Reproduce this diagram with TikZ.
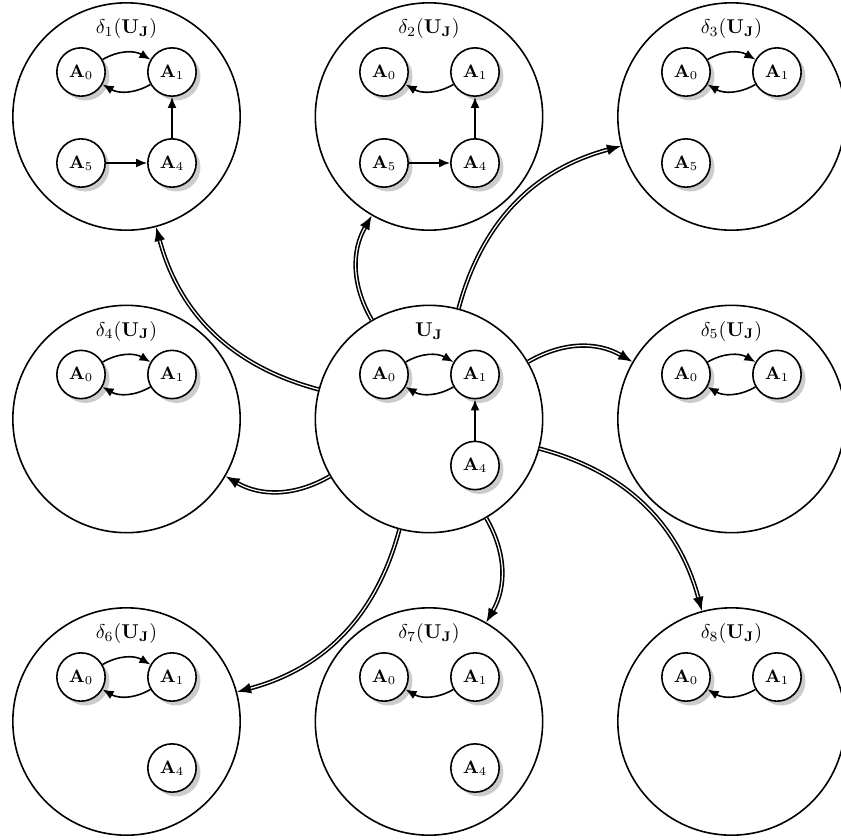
\documentclass[tikz,border=0pt]{standalone}
\usetikzlibrary{shadows,arrows.meta}
\begin{document}
\begin{tikzpicture}[x=0.0176cm,y=-0.0176cm,
  big/.style={circle,draw,thick,minimum size=4cm,inner sep=0pt},
  st/.style={circle,draw,thick,fill=white,drop shadow={fill=black!40,opacity=0.5},minimum size=0.85cm,inner sep=0pt,font=\small},
  lbl/.style={inner sep=0pt},
  ar/.style={-{Latex[length=5.5pt,width=4.5pt]},thick},
  dar/.style={-{Latex[length=7pt,width=5.5pt]},thick,double}]
\useasboundingbox (0,0) rectangle (840,840);
% big circles
\node[big] (c1) at (126.5,116.5) {};
\node[big] (c2) at (429,116.5) {};
\node[big] (c3) at (731.5,116.5) {};
\node[big] (c4) at (126.5,419) {};
\node[big] (u)  at (429,419) {};
\node[big] (c5) at (731.5,419) {};
\node[big] (c6) at (126.5,721.5) {};
\node[big] (c7) at (429,721.5) {};
\node[big] (c8) at (731.5,721.5) {};
% labels
\node[lbl] (l1) at (126.5,28.5) {$\delta_1(\mathbf{U_J})$};
\node[lbl] (l2) at (429,28.5) {$\delta_2(\mathbf{U_J})$};
\node[lbl] (l3) at (731.5,28.5) {$\delta_3(\mathbf{U_J})$};
\node[lbl] (l4) at (126.5,331) {$\delta_4(\mathbf{U_J})$};
\node[lbl] (lu) at (429,331) {$\mathbf{U_J}$};
\node[lbl] (l5) at (731.5,331) {$\delta_5(\mathbf{U_J})$};
\node[lbl] (l6) at (126.5,633.5) {$\delta_6(\mathbf{U_J})$};
\node[lbl] (l7) at (429,633.5) {$\delta_7(\mathbf{U_J})$};
\node[lbl] (l8) at (731.5,633.5) {$\delta_8(\mathbf{U_J})$};
% c1
\node[st] (c1a0) at (81,72) {$\mathbf{A}_0$};
\node[st] (c1a1) at (172,72) {$\mathbf{A}_1$};
\node[st] (c1a5) at (81,163) {$\mathbf{A}_5$};
\node[st] (c1a4) at (172,163) {$\mathbf{A}_4$};
\draw[ar] (c1a0) to[bend left] (c1a1);
\draw[ar] (c1a1) to[bend left] (c1a0);
\draw[ar] (c1a4) -- (c1a1);
\draw[ar] (c1a5) -- (c1a4);
% c2
\node[st] (c2a0) at (384,72) {$\mathbf{A}_0$};
\node[st] (c2a1) at (475,72) {$\mathbf{A}_1$};
\node[st] (c2a5) at (384,163) {$\mathbf{A}_5$};
\node[st] (c2a4) at (475,163) {$\mathbf{A}_4$};
\draw[ar] (c2a1) to[bend left] (c2a0);
\draw[ar] (c2a4) -- (c2a1);
\draw[ar] (c2a5) -- (c2a4);
% c3
\node[st] (c3a0) at (686,72) {$\mathbf{A}_0$};
\node[st] (c3a1) at (777,72) {$\mathbf{A}_1$};
\node[st] (c3a5) at (686,163) {$\mathbf{A}_5$};
\draw[ar] (c3a0) to[bend left] (c3a1);
\draw[ar] (c3a1) to[bend left] (c3a0);
% c4
\node[st] (c4a0) at (81,374.5) {$\mathbf{A}_0$};
\node[st] (c4a1) at (172,374.5) {$\mathbf{A}_1$};
\draw[ar] (c4a0) to[bend left] (c4a1);
\draw[ar] (c4a1) to[bend left] (c4a0);
% center
\node[st] (ua0) at (384,374.5) {$\mathbf{A}_0$};
\node[st] (ua1) at (475,374.5) {$\mathbf{A}_1$};
\node[st] (ua4) at (475,465.5) {$\mathbf{A}_4$};
\draw[ar] (ua0) to[bend left] (ua1);
\draw[ar] (ua1) to[bend left] (ua0);
\draw[ar] (ua4) -- (ua1);
% c5
\node[st] (c5a0) at (686,374.5) {$\mathbf{A}_0$};
\node[st] (c5a1) at (777,374.5) {$\mathbf{A}_1$};
\draw[ar] (c5a0) to[bend left] (c5a1);
\draw[ar] (c5a1) to[bend left] (c5a0);
% c6
\node[st] (c6a0) at (81,677) {$\mathbf{A}_0$};
\node[st] (c6a1) at (172,677) {$\mathbf{A}_1$};
\node[st] (c6a4) at (172,768) {$\mathbf{A}_4$};
\draw[ar] (c6a0) to[bend left] (c6a1);
\draw[ar] (c6a1) to[bend left] (c6a0);
% c7
\node[st] (c7a0) at (384,677) {$\mathbf{A}_0$};
\node[st] (c7a1) at (475,677) {$\mathbf{A}_1$};
\node[st] (c7a4) at (475,768) {$\mathbf{A}_4$};
\draw[ar] (c7a1) to[bend left] (c7a0);
% c8
\node[st] (c8a0) at (686,677) {$\mathbf{A}_0$};
\node[st] (c8a1) at (777,677) {$\mathbf{A}_1$};
\draw[ar] (c8a1) to[bend left] (c8a0);
% transitions
\draw[dar] (u) to[bend left] (c1);
\draw[dar] (u) to[bend left] (c2);
\draw[dar] (u) to[bend left] (c3);
\draw[dar] (u) to[bend left] (c4);
\draw[dar] (u) to[bend left] (c5);
\draw[dar] (u) to[bend left] (c6);
\draw[dar] (u) to[bend left] (c7);
\draw[dar] (u) to[bend left] (c8);
\end{tikzpicture}
\end{document}
